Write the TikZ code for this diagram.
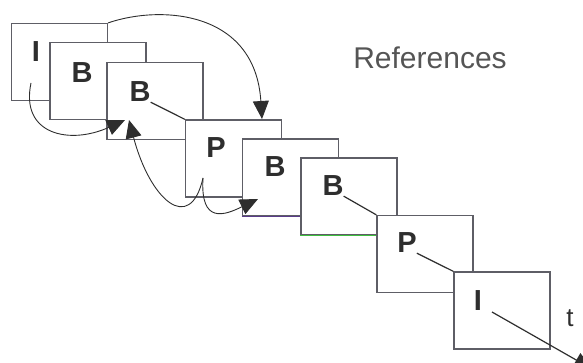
\documentclass[tikz,border=0pt]{standalone}
\usepackage{fontspec}
\setmainfont{Liberation Sans}
\usetikzlibrary{arrows.meta}
\definecolor{framegray}{HTML}{5E5E66}
\definecolor{inkgray}{HTML}{2E2E2E}
\definecolor{textgray}{HTML}{555555}
\definecolor{edgegreen}{HTML}{3FBF3F}
\definecolor{edgepurple}{HTML}{5A3C8A}
\begin{document}
\begin{tikzpicture}[x=1pt,y=-1pt,
  picframe/.style={draw=framegray, line width=1.2pt, fill=white,
    minimum width=96pt, minimum height=77pt, inner sep=0pt},
  ftype/.style={inner sep=0pt, text=inkgray, font=\fontsize{29}{32}\selectfont\bfseries},
  link/.style={draw=inkgray, line width=1.2pt},
  curvearrow/.style={draw=inkgray, line width=0.9pt,
    -{Triangle[length=18pt,width=16pt]}},
  tip/.style={-{Triangle[length=18pt,width=16pt]}}]
  \useasboundingbox (0,0) rectangle (583,363);

  % picture frames, each one overlapping the previous
  \node[picframe] (f1) at (59.5,62) {};
  \node[picframe] (f2) at (98,81) {};
  \node[picframe] (f3) at (155,101) {};
  \node[picframe] (f4) at (233.5,158.5) {};
  \node[picframe] (f5) at (290.5,177.5) {};
  \draw[edgepurple, line width=1.2pt] (f5.south west) -- (f5.south east);
  \node[picframe] (f6) at (349,196.5) {};
  \draw[edgegreen, line width=1.5pt] (f6.south west) -- (f6.south east);
  \node[picframe] (f7) at (425,254) {};
  \node[picframe] (f8) at (502,310.5) {};

  % frame types
  \node[ftype] (l1) at (36,52) {I};
  \node[ftype] (l2) at (82,73) {B};
  \node[ftype] (l3) at (140,92) {B};
  \node[ftype] (l4) at (216,148) {P};
  \node[ftype] (l5) at (275,167) {B};
  \node[ftype] (l6) at (333,186) {B};
  \node[ftype] (l7) at (407,243) {P};
  \node[ftype] (l8) at (478,301) {I};

  % title and time axis label
  \node[inner sep=0pt, text=textgray, font=\fontsize{30}{32}\selectfont]
    (title) at (430,58) {References};
  \node[inner sep=0pt, text=inkgray, font=\fontsize{26}{30}\selectfont]
    (tlab) at (570,318) {t};

  % display order links
  \draw[link] (l3.south east) -- (f4.north west);
  \draw[link] (l6.south east) -- (f7.north west);
  \draw[link] (l7.south east) -- (f8.north west);
  \coordinate (t0) at (492,312);
  \coordinate (tend) at (592,369);
  \draw[link, tip] (t0) -- (tend);

  % reference arrows
  \coordinate (c1s) at (31,83);
  \coordinate (c1e) at (125,120);
  \coordinate (c2e) at (262,119);
  \coordinate (c3s) at (203,178);
  \coordinate (c3e) at (129,120);
  \coordinate (c4e) at (258,199);
  \draw[curvearrow] (c1s) .. controls (20,135) and (70,145) .. (c1e);
  \draw[curvearrow] (f1.north east) .. controls (160,5) and (255,10) .. (c2e);
  \draw[curvearrow] (c3s) .. controls (190,235) and (150,200) .. (c3e);
  \draw[curvearrow] (c3s) .. controls (200,225) and (225,215) .. (c4e);
\end{tikzpicture}
\end{document}
